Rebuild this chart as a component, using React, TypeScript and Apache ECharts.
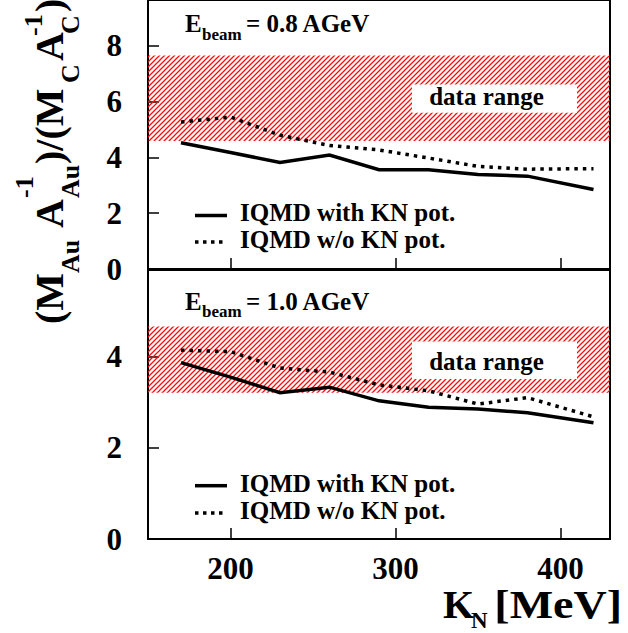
import React, { useEffect, useRef } from 'react';
import * as echarts from 'echarts';

// ---- data ----
const kN = [170, 200, 230, 260, 290, 320, 350, 380, 420];
const withKN08 = [4.53, 4.18, 3.82, 4.09, 3.56, 3.56, 3.39, 3.33, 2.85];
const withoutKN08 = [5.27, 5.45, 4.8, 4.43, 4.27, 3.98, 3.68, 3.58, 3.6];
const withKN10 = [3.87, 3.55, 3.21, 3.33, 3.03, 2.89, 2.85, 2.77, 2.55];
const withoutKN10 = [4.14, 4.11, 3.75, 3.66, 3.38, 3.25, 2.96, 3.1, 2.68];
const dataRange08 = [4.59, 7.66];
const dataRange10 = [3.21, 4.66];
const labelBoxX = [310, 410];
const labelBox08Y = [5.6, 6.62];
const labelBox10Y = [3.51, 4.33];
const xTicks = [200, 300, 400];
const yTicksTop = [0, 2, 4, 6, 8];
const yTicksBottom = [0, 2, 4];
const legendNames = ['IQMD with KN pot.', 'IQMD w/o KN pot.'];
const beamLabels = ['0.8', '1.0'];

const FF = "'Liberation Serif', 'Times New Roman', serif";

function makeHatch(): HTMLCanvasElement {
  const s = 5;
  const c = document.createElement('canvas');
  c.width = s;
  c.height = s;
  const ctx = c.getContext('2d')!;
  ctx.strokeStyle = 'rgb(255,10,10)';
  ctx.lineWidth = 1.25;
  ctx.beginPath();
  ctx.moveTo(-1, s + 1);
  ctx.lineTo(s + 1, -1);
  ctx.moveTo(-1, 1);
  ctx.lineTo(1, -1);
  ctx.moveTo(s - 1, s + 1);
  ctx.lineTo(s + 1, s - 1);
  ctx.stroke();
  return c;
}

function txt(x: number, y: number, text: string, size: number, align = 'left', extra: any = {}) {
  return {
    type: 'text',
    x,
    y,
    silent: true,
    ...extra,
    style: {
      text,
      font: `bold ${size}px ${FF}`,
      fill: '#000',
      align,
      verticalAlign: 'middle',
      textAlign: align,
      textVerticalAlign: 'middle',
    },
  };
}

export default function App() {
  const ref = useRef<HTMLDivElement>(null);
  useEffect(() => {
    if (!ref.current) return;
    const chart = echarts.init(ref.current, undefined, { renderer: 'svg' });
    const hatch = makeHatch();
    const hatchColor: any = { image: hatch, repeat: 'repeat', imageWidth: 5, imageHeight: 5 };

    const grids = [
      { left: 148, top: -8, width: 462, height: 277 },
      { left: 148, top: 270, width: 462, height: 269 },
    ].map((g) => ({
      ...g,
      show: true,
      borderColor: '#000',
      borderWidth: 2,
      backgroundColor: 'transparent',
      containLabel: false,
    }));

    const labelFont = { fontFamily: FF, fontWeight: 'bold', fontSize: 31, color: '#000' };

    const xAxes = [0, 1].map((i) => ({
      type: 'value',
      gridIndex: i,
      min: 150,
      max: 430,
      axisLine: { show: false },
      splitLine: { show: false },
      axisTick: {
        show: true,
        inside: true,
        length: 11,
        customValues: xTicks,
        lineStyle: { color: '#000', width: 1.5 },
      },
      axisLabel: {
        show: i === 1,
        customValues: xTicks,
        margin: 14,
        ...labelFont,
      },
    }));

    const yAxes = [
      { max: 9.648, ticks: yTicksTop },
      { max: 5.9, ticks: yTicksBottom },
    ].map((a, i) => ({
      type: 'value',
      gridIndex: i,
      min: 0,
      max: a.max,
      axisLine: { show: false },
      splitLine: { show: false },
      axisTick: {
        show: true,
        inside: true,
        length: 11,
        customValues: a.ticks,
        lineStyle: { color: '#000', width: 1.5 },
      },
      axisLabel: {
        show: true,
        customValues: a.ticks,
        margin: 26,
        ...labelFont,
      },
    }));

    const pairs = (ys: number[]) => kN.map((x, i) => [x, ys[i]]);

    const panels = [
      { solid: withKN08, dotted: withoutKN08, band: dataRange08, box: labelBox08Y, off: [-8, -2] },
      { solid: withKN10, dotted: withoutKN10, band: dataRange10, box: labelBox10Y, off: [-8, 1] },
    ];

    const series: any[] = [];
    panels.forEach((p, i) => {
      series.push({
        type: 'line',
        xAxisIndex: i,
        yAxisIndex: i,
        data: pairs(p.solid),
        showSymbol: false,
        symbol: 'none',
        silent: true,
        z: 1,
        lineStyle: { width: 0, opacity: 0 },
        markArea: {
          silent: true,
          data: [
            [
              { xAxis: 150, yAxis: p.band[0], itemStyle: { color: hatchColor, borderWidth: 0 }, label: { show: false } },
              { xAxis: 430, yAxis: p.band[1] },
            ],
            [
              {
                xAxis: labelBoxX[0],
                yAxis: p.box[0],
                itemStyle: { color: '#fff', borderWidth: 0 },
                label: {
                  show: true,
                  position: 'inside',
                  formatter: 'data range',
                  fontFamily: FF,
                  fontWeight: 'bold',
                  fontSize: 25,
                  color: '#000',
                  offset: p.off,
                },
              },
              { xAxis: labelBoxX[1], yAxis: p.box[1] },
            ],
          ],
        },
      });
      series.push({
        type: 'line',
        name: legendNames[1],
        xAxisIndex: i,
        yAxisIndex: i,
        data: pairs(p.dotted),
        showSymbol: false,
        symbol: 'none',
        z: 3,
        lineStyle: { color: '#000', width: 3.5, type: [3.5, 5], cap: 'butt' },
      });
      series.push({
        type: 'line',
        name: legendNames[0],
        xAxisIndex: i,
        yAxisIndex: i,
        data: pairs(p.solid),
        showSymbol: false,
        symbol: 'none',
        z: 4,
        lineStyle: { color: '#000', width: 3.5, type: 'solid', join: 'miter' },
      });
    });

    const graphic: any[] = [];
    // y axis title (rotated)
    const M = 40;
    const S = 26;
    graphic.push({
      type: 'group',
      x: 0,
      y: 324,
      rotation: Math.PI / 2,
      silent: true,
      children: [
        txt(0, 49, '(M', M),
        txt(51, 70, 'Au', S),
        txt(96, 49, 'A', M),
        txt(126, 24, '-1', S),
        txt(126, 70, 'Au', S),
        txt(160, 49, ')/(M', M),
        txt(241, 70, 'C', S),
        txt(263, 49, 'A', M),
        txt(288, 33, '-1', S),
        txt(290, 70, 'C', S),
        txt(312, 49, ')', M),
      ],
    });
    // x axis title
    graphic.push(txt(443, 604.5, 'K', 40));
    graphic.push(txt(471, 620, 'N', 23));
    graphic.push(txt(622, 604.5, '[MeV]', 40, 'right', { scaleX: 1.15 }));

    // per-panel annotations
    const legendY = [[215.5, 242], [485.7, 513]];
    const legendTextY = [[212.5, 239], [483.5, 510]];
    const beamY = [[23.6, 34.3], [301.6, 311.3]];
    [0, 1].forEach((i) => {
      graphic.push(txt(185, beamY[i][0], 'E', 25));
      graphic.push(txt(202, beamY[i][1], 'beam', 17));
      graphic.push(txt(246, beamY[i][0], `= ${beamLabels[i]} AGeV`, 25));
      graphic.push({
        type: 'line',
        silent: true,
        shape: { x1: 195, y1: legendY[i][0], x2: 227, y2: legendY[i][0] },
        style: { stroke: '#000', lineWidth: 3.5 },
      });
      graphic.push({
        type: 'line',
        silent: true,
        shape: { x1: 195, y1: legendY[i][1], x2: 223, y2: legendY[i][1] },
        style: { stroke: '#000', lineWidth: 3.5, lineDash: [3.5, 4.5] },
      });
      graphic.push(txt(240, legendTextY[i][0], legendNames[0], 25));
      graphic.push(txt(240, legendTextY[i][1], legendNames[1], 25));
    });

    chart.setOption({
      animation: false,
      backgroundColor: '#fff',
      grid: grids,
      xAxis: xAxes,
      yAxis: yAxes,
      series,
      graphic,
    });
    return () => chart.dispose();
  }, []);
  return (
    <div
      ref={ref}
      style={{ position: 'fixed', left: 0, top: 0, width: 628, height: 633 }}
    />
  );
}
